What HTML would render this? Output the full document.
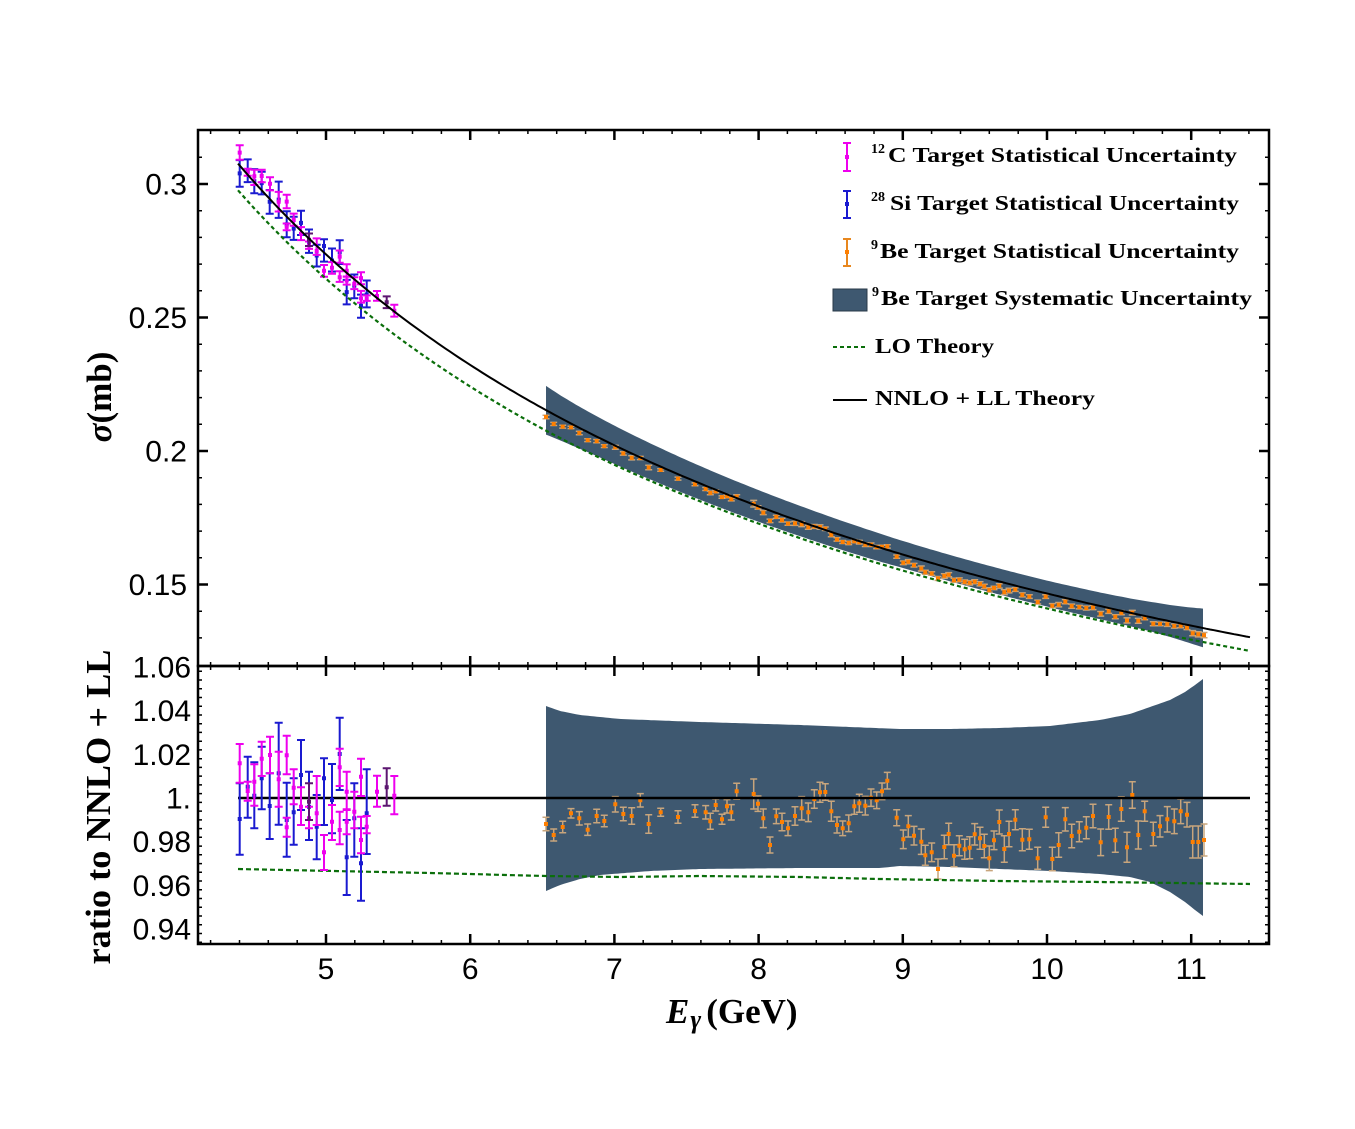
<!DOCTYPE html>
<html><head><meta charset="utf-8">
<style>
html,body{margin:0;padding:0;background:#fff;}
svg{display:block;}
.tk{font-family:"Liberation Sans",Arial,sans-serif;font-size:30px;fill:#000;}
.lg{font-family:"Liberation Serif","Times New Roman",serif;font-weight:bold;font-size:21px;fill:#000;}
.sp{font-family:"Liberation Serif","Times New Roman",serif;font-weight:bold;font-size:14px;fill:#000;}
.ax{font-family:"Liberation Serif","Times New Roman",serif;font-weight:bold;font-size:35px;fill:#000;}
</style></head><body>
<svg id="s" width="1355" height="1129" viewBox="0 0 1355 1129" xmlns="http://www.w3.org/2000/svg">
<defs>
<clipPath id="ct"><rect x="199" y="131" width="1069" height="534"/></clipPath>
<clipPath id="cb"><rect x="199" y="667" width="1069" height="276"/></clipPath>
</defs>
<rect width="1355" height="1129" fill="#fff"/>
<g id="top" clip-path="url(#ct)"></g>
<g id="bot" clip-path="url(#cb)"></g>
<g id="ticks"></g>
<rect x="198" y="130" width="1071" height="536" fill="none" stroke="#000" stroke-width="2.5"/>
<rect x="198" y="666" width="1071" height="278" fill="none" stroke="#000" stroke-width="2.5"/>

<!-- top y tick labels -->
<text class="tk" x="187" y="194.5" text-anchor="end">0.3</text>
<text class="tk" x="187" y="328" text-anchor="end">0.25</text>
<text class="tk" x="187" y="461.5" text-anchor="end">0.2</text>
<text class="tk" x="187" y="595" text-anchor="end">0.15</text>
<!-- bottom y tick labels -->
<text class="tk" x="191" y="677.5" text-anchor="end">1.06</text>
<text class="tk" x="191" y="721.2" text-anchor="end">1.04</text>
<text class="tk" x="191" y="764.8" text-anchor="end">1.02</text>
<text class="tk" x="191" y="808.5" text-anchor="end">1.</text>
<text class="tk" x="191" y="852.2" text-anchor="end">0.98</text>
<text class="tk" x="191" y="895.9" text-anchor="end">0.96</text>
<text class="tk" x="191" y="939.6" text-anchor="end">0.94</text>
<!-- x tick labels -->
<text class="tk" x="326" y="979" text-anchor="middle">5</text>
<text class="tk" x="470.2" y="979" text-anchor="middle">6</text>
<text class="tk" x="614.4" y="979" text-anchor="middle">7</text>
<text class="tk" x="758.6" y="979" text-anchor="middle">8</text>
<text class="tk" x="902.8" y="979" text-anchor="middle">9</text>
<text class="tk" x="1047" y="979" text-anchor="middle">10</text>
<text class="tk" x="1191.2" y="979" text-anchor="middle">11</text>

<!-- axis labels -->
<text class="ax" x="666" y="1023"><tspan font-style="italic">E</tspan><tspan font-style="italic" font-size="26" dy="5" dx="1">γ</tspan><tspan dy="-5" dx="5">(GeV)</tspan></text>
<text class="ax" transform="translate(111,397) rotate(-90)" text-anchor="middle" font-size="37"><tspan font-style="italic">σ</tspan><tspan>(mb)</tspan></text>
<text class="ax" transform="translate(110,807) rotate(-90)" text-anchor="middle" textLength="315" lengthAdjust="spacingAndGlyphs">ratio to NNLO + LL</text>

<!-- legend -->
<g>
<path d="M847,143V171M843,143H851M843,171H851" stroke="#ee00ee" stroke-width="2" fill="none"/>
<rect x="845" y="155" width="4" height="4" fill="#ee00ee"/>
<text class="sp" x="871" y="153">12</text>
<text class="lg" x="888" y="162" textLength="349" lengthAdjust="spacingAndGlyphs">C Target Statistical Uncertainty</text>

<path d="M847,191V218M843,191H851M843,218H851" stroke="#1a1ad0" stroke-width="2" fill="none"/>
<rect x="845" y="202" width="4" height="4" fill="#1a1ad0"/>
<text class="sp" x="871" y="201">28</text>
<text class="lg" x="890" y="210" textLength="349" lengthAdjust="spacingAndGlyphs">Si Target Statistical Uncertainty</text>

<path d="M847,239V266M843,239H851M843,266H851" stroke="#e8871e" stroke-width="2" fill="none"/>
<rect x="845" y="250" width="4" height="4" fill="#ff7f00"/>
<text class="sp" x="871" y="249">9</text>
<text class="lg" x="880" y="258" textLength="359" lengthAdjust="spacingAndGlyphs">Be Target Statistical Uncertainty</text>

<rect x="833" y="289" width="34" height="22" fill="#3e5870" stroke="#2a3a48" stroke-width="1"/>
<text class="sp" x="872" y="296">9</text>
<text class="lg" x="881" y="305" textLength="371" lengthAdjust="spacingAndGlyphs">Be Target Systematic Uncertainty</text>

<line x1="833" y1="347" x2="867" y2="347" stroke="#0a6e0a" stroke-width="2" stroke-dasharray="4,3"/>
<text class="lg" x="875" y="353" textLength="119" lengthAdjust="spacingAndGlyphs">LO Theory</text>

<line x1="833" y1="400" x2="867" y2="400" stroke="#000" stroke-width="2"/>
<text class="lg" x="875" y="405" textLength="220" lengthAdjust="spacingAndGlyphs">NNLO + LL Theory</text>
</g>
</svg>
<script>
(function(){
var X=function(E){return 326+(E-5)*144.2;}, Ei=function(x){return 5+(x-326)/144.2;};
var nn=function(E){return 0.307*Math.pow(E/4.4,-0.9);};
var Yt=function(s){return 184+(0.3-s)*2670;}, Yb=function(r){return 798-(r-1)*2185;}, Rb=function(y){return 1-(y-798)/2185;};
function ip(p,x){if(x<=p[0][0])return p[0][1];for(var i=0;i<p.length-1;i++){if(x<=p[i+1][0]){var t=(x-p[i][0])/(p[i+1][0]-p[i][0]);return p[i][1]+t*(p[i+1][1]-p[i][1]);}}return p[p.length-1][1];}
function toTop(x,yb){return Yt(nn(Ei(x))*Rb(yb));}
function f(v){return v.toFixed(1);}
var up=[[546,706],[560,711],[580,715],[620,719],[700,722],[800,725],[900,729],[950,729],[1000,728],[1050,726],[1100,720],[1130,714],[1150,707],[1170,700],[1185,692],[1195,685],[1203,679]];
var lo=[[546,891],[560,885],[580,879],[600,875],[650,871],[700,869],[800,868],[880,868],[900,866],[950,867],[1000,869],[1050,871],[1100,874],[1130,877],[1150,882],[1170,892],[1185,902],[1195,910],[1203,916]];
var loR=[[238,869],[430,873],[546,876],[620,877],[700,876],[800,877],[880,879],[1000,881],[1100,882],[1250,884]];
var xs=[];for(var x=546;x<1203;x+=3)xs.push(x);xs.push(1203);
var rx=xs.slice().reverse();
var bb='M'+xs.map(function(x){return f(x)+','+f(ip(up,x));}).join('L')+'L'+rx.map(function(x){return f(x)+','+f(ip(lo,x));}).join('L')+'Z';
var tb='M'+xs.map(function(x){return f(x)+','+f(toTop(x,ip(up,x)));}).join('L')+'L'+rx.map(function(x){return f(x)+','+f(toTop(x,ip(lo,x)));}).join('L')+'Z';
var cx=[];for(var x2=238;x2<1250;x2+=4)cx.push(x2);cx.push(1250);
var nnT='M'+cx.map(function(x){return f(x)+','+f(Yt(nn(Ei(x))));}).join('L');
var loT='M'+cx.map(function(x){return f(x)+','+f(toTop(x,ip(loR,x)));}).join('L');
var loB='M'+cx.map(function(x){return f(x)+','+f(ip(loR,x));}).join('L');

var O=[[546,824,6.7],[553.7,835,6],[562.7,827,5.7],[571,813.3,4.7],[579.3,818.3,6.7],[587.7,829.7,5.7],[596.7,816,6.7],[604.3,821,5.7],[615.3,804.3,7.7],[623.3,814,6.7],[631.7,816,8.3],[640.3,800.3,6.7],[648.7,824,9.3],[660.7,812.3,4],[678,817,6.3],[695,811,6.3],[705.7,812.3,6.7],[710.3,821.3,8],[715.7,805,6],[722,819.3,5],[727,806.3,6.7],[731.3,812.3,7.7],[736.7,791.3,8],[753.7,794,15],[758,803.7,7.7],[763.3,818.3,9.3],[770,845,8],[776.3,816.3,7.3],[782,822,8.7],[788,828.3,7.3],[795,816,9.3],[801.7,808.3,11.7],[808.3,812.3,9.3],[814.3,799,9.3],[820,792.3,10],[825.3,792,8.3],[831.3,811.3,10],[837,825,8],[842.7,828.3,7.3],[848.7,823.3,8.3],[854.3,806.3,8],[859.3,803.3,9],[865.3,805.7,9.3],[871,797.7,8.7],[876.7,800.3,8.3],[882,791.3,8.3],[887.3,780.7,8.3],
[896.7,817.7,8],[903.3,839.3,9.3],[908.3,826.3,10.7],[914,835.7,9.3],[921.3,841.7,12.7],[925.3,855.3,10],[931.7,852.3,9.3],[938,869,10],[944.3,847,11.7],[948.7,834,10.7],[954,855.7,11],[959.3,845.7,10],[964.7,849.3,10],[969.7,847.7,11],[974.7,834.3,10.7],[980,838.3,11],[984.3,846,11.7],[989.3,858.3,12.3],[994,840.3,9.3],[999.3,822,12],[1004.3,849,13.3],[1009,834,12.7],[1015.3,819.7,10],[1022.3,839.7,11],[1029.3,839.3,10],[1037.7,858.3,11],[1045.7,817.3,10],[1052.3,859,11.7],[1058.7,845,12.3],[1065.3,819.3,11.7],[1071.7,836,11.7],[1079.3,831.7,10],[1086.3,827.7,11],[1093,816,11.7],[1100.7,842.3,13.3],[1108.7,817,12.3],[1115.3,840.3,12],[1121.3,809,12.3],[1127,847.3,15],[1132.3,795,13.3],[1138.3,835,14],[1144.7,811.3,10],[1153.3,834,11.7],[1160,826.3,10.7],[1167.3,819.3,12.7],[1174.3,821.3,12.3],[1180.7,811.3,12.3],[1187,814.7,12.3],[1192.7,842,16],[1198.3,842,16],[1204,840,16]];
var C=[['m',239.7,763.3,744,782.7],['b',239.7,819,783.3,854.7],['b',247.7,786.7,756.7,817.7],['m',247.7,791,781.7,800.7],['b',254.3,795.7,762.3,828.3],['m',254.3,781.7,764.3,805.7],['b',261.7,778.3,746.7,809.3],['m',261.7,758.7,741.7,776],['b',269.7,806,773.3,839],['m',270,755,736.7,773.3],['b',278.7,773.3,722.7,824.7],['m',278.7,779.3,751.7,806.7],['m',286.7,755.3,735.7,774.3],['b',286.7,820,782.7,856.7],['m',286.7,827.3,817.7,836.7],['b',293.7,812.3,778.3,844.7],['m',293.7,787.7,769.3,804.3],['b',301,775,740,810],['m',301,806.7,787.3,825],['b',309,806.7,771.7,840],['m',309,818.3,806.7,828.3],['p',309,801.7,783.3,820],['m',316.7,813.3,776,825],['b',316.7,826.7,795,859.3],['m',324,852.3,835,870],['b',324,778.3,758.3,825],['b',332,800,764,833.3],['m',332,821.7,805,840],['b',339.7,754,717.7,790],['m',339.7,767.3,748.7,786],['m',339.7,830,811.7,844.3],['m',346.7,791.7,771.7,809.3],['b',346.7,857.3,820,895],['m',346.7,821.7,810,834.3],['b',354.3,818.3,783.3,856.7],['m',354.3,811.7,791.7,828.3],['m',361,776.7,758.7,796],['b',361,863.3,828.3,900.7],['m',361,840,816.7,853.3],['b',366.7,813.3,769.3,854],['m',366.7,826.7,816,833.3],['m',377,791.7,775.7,806.7],['p',386.7,787.3,768.3,805.7],['m',394.3,795.7,776,814.3]];
var col={m:'#ee00ee',b:'#1a1ad0',p:'#5c1670'};
function eb(x,y1,y2,cw){return 'M'+f(x-cw)+','+f(y1)+'H'+f(x+cw)+'M'+f(x)+','+f(y1)+'V'+f(y2)+'M'+f(x-cw)+','+f(y2)+'H'+f(x+cw);}
var obT='',obB='',omT='',omB='';
O.forEach(function(d){
  var x=d[0],y=d[1],e=d[2];
  obB+=eb(x,y-e,y+e,3.5);
  omB+='M'+f(x-2)+','+f(y-2)+'h4v4h-4z';
  var E=Ei(x),n=nn(E),yt=Yt(n*Rb(y)),et=n*(e/2185)*2670;
  if(et<1.2)et=1.2;
  obT+=eb(x,yt-et,yt+et,3.5);
  omT+='M'+f(x-2)+','+f(yt-2)+'h4v4h-4z';
});
var cbT={m:'',b:'',p:''},cbB={m:'',b:'',p:''},cmT={m:'',b:'',p:''},cmB={m:'',b:'',p:''};
C.forEach(function(d){
  var c=d[0],x=d[1],yc=d[2],y1=d[3],y2=d[4];
  cbB[c]+=eb(x,y1,y2,4);
  cmB[c]+='M'+f(x-2)+','+f(yc-2)+'h4v4h-4z';
  var n=nn(Ei(x));
  var t1=Yt(n*Rb(y1)),t2=Yt(n*Rb(y2)),tc=Yt(n*Rb(yc));
  cbT[c]+=eb(x,t1,t2,4);
  cmT[c]+='M'+f(x-2)+','+f(tc-2)+'h4v4h-4z';
});
var top='<path d="'+tb+'" fill="#3e5870"/>'+
 '<path d="'+obT+'" stroke="#c8a57c" stroke-width="1.5" fill="none"/>'+
 '<path d="'+omT+'" fill="#ff7f00"/>';
['b','m','p'].forEach(function(c){top+='<path d="'+cbT[c]+'" stroke="'+col[c]+'" stroke-width="2" fill="none"/><path d="'+cmT[c]+'" fill="'+col[c]+'"/>';});
top+='<path d="'+loT+'" stroke="#0a6e0a" stroke-width="2.2" fill="none" stroke-dasharray="4,3"/>'+
 '<path d="'+nnT+'" stroke="#000" stroke-width="2" fill="none"/>';
var bot='<path d="'+bb+'" fill="#3e5870"/>'+
 '<path d="'+obB+'" stroke="#c8a57c" stroke-width="1.5" fill="none"/>'+
 '<path d="'+omB+'" fill="#ff7f00"/>'+
 '<path d="'+loB+'" stroke="#0a6e0a" stroke-width="2.2" fill="none" stroke-dasharray="5,3"/>'+
 '<line x1="238" y1="798" x2="1250" y2="798" stroke="#000" stroke-width="2.5"/>';
['b','m','p'].forEach(function(c){bot+='<path d="'+cbB[c]+'" stroke="'+col[c]+'" stroke-width="2" fill="none"/><path d="'+cmB[c]+'" fill="'+col[c]+'"/>';});
document.getElementById('top').innerHTML=top;
document.getElementById('bot').innerHTML=bot;
var tk='',tm='';
for(var k=21;k<=57;k++){var E=k*0.2,x3=X(E);if(x3<200||x3>1267)continue;var maj=(k%5===0);var L=maj?10:4;
  var s='M'+f(x3)+',130v'+L+'M'+f(x3)+',666v-'+L+'M'+f(x3)+',666v'+L+'M'+f(x3)+',944v-'+L;
  if(maj)tk+=s;else tm+=s;}
for(var j=12;j<=32;j++){var y=Yt(j/100);if(y<132||y>664)continue;var mj=(j%5===0);var L2=mj?10:4;
  var s2='M198,'+f(y)+'h'+L2+'M1269,'+f(y)+'h-'+L2; if(mj)tk+=s2;else tm+=s2;}
for(var q=934;q<=1060;q+=4){var y3=Yb(q/1000);if(y3<666||y3>943)continue;var mj2=(q%20===0);var L3=mj2?10:4;
  var s3='M198,'+f(y3)+'h'+L3+'M1269,'+f(y3)+'h-'+L3; if(mj2)tk+=s3;else tm+=s3;}
document.getElementById('ticks').innerHTML='<path d="'+tk+'" stroke="#000" stroke-width="2.5" fill="none"/><path d="'+tm+'" stroke="#000" stroke-width="1.5" fill="none"/>';
})();
</script>
</body></html>
